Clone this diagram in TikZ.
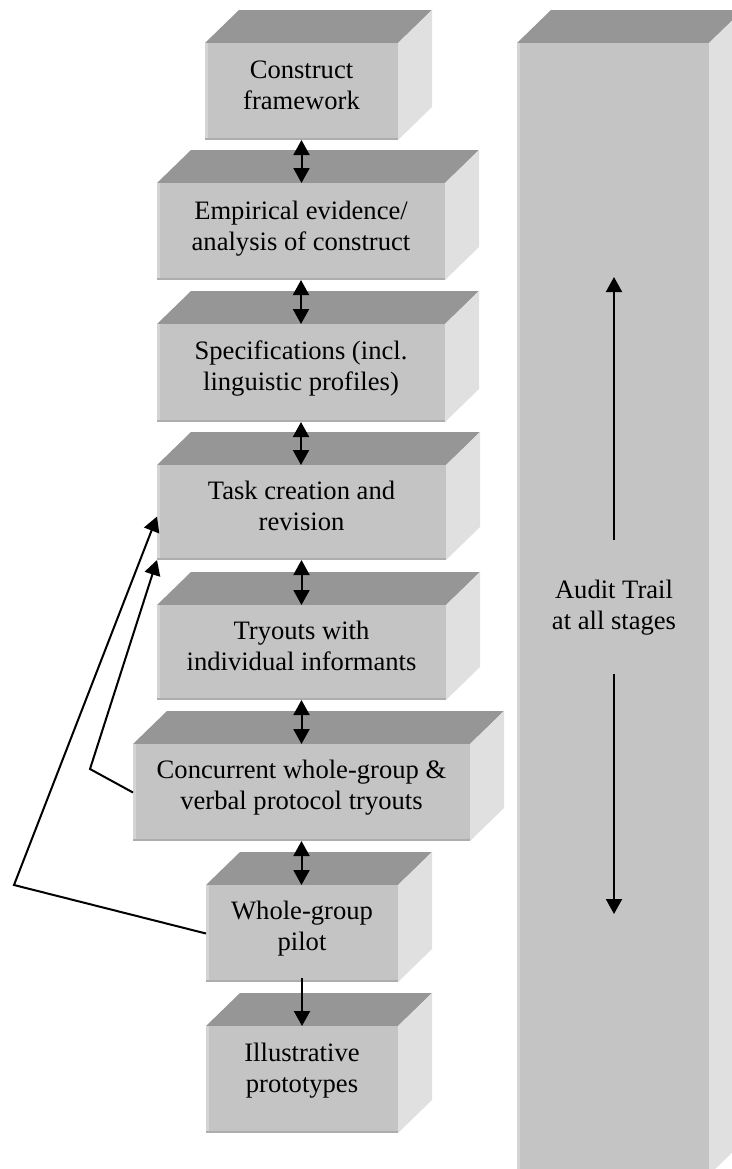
\documentclass[tikz,border=0pt]{standalone}
\usepackage{fontspec}
\setmainfont{Liberation Serif}
\usetikzlibrary{arrows.meta,fit,calc}
\definecolor{faceC}{gray}{0.77}
\definecolor{topC}{gray}{0.59}
\definecolor{sideC}{gray}{0.88}
\definecolor{leftC}{gray}{0.83}
\definecolor{botC}{gray}{0.68}
\tikzset{
  face/.style={inner sep=0pt, outer sep=0pt, fill=faceC, draw=none},
  lbl/.style={align=center, inner sep=0pt, font=\fontsize{13.3}{15.2}\selectfont},
  link/.style={line width=1pt, black},
  dbl/.style={link, {Triangle[length=7.5pt,width=8pt]}-{Triangle[length=7.5pt,width=8pt]}},
  sgl/.style={link, -{Triangle[length=7.5pt,width=8pt]}},
}
% #1 name, #2 x1, #3 y1 (top), #4 x2, #5 y2 (bottom)
\newcommand\cubebox[5]{%
  \fill[topC] (#2,#3) -- (#2+34,#3-33) -- (#4+34,#3-33) -- (#4,#3) -- cycle;
  \fill[sideC] (#4,#3) -- (#4+34,#3-33) -- (#4+34,#5-33) -- (#4,#5) -- cycle;
  \node[face, fit={(#2,#3) (#4,#5)}] (#1) {};
  \fill[leftC] (#1.north west) rectangle ([xshift=1.25pt]#1.south west);
  \fill[botC] ([yshift=1pt]#1.south west) rectangle (#1.south east);
}
\begin{document}
\begin{tikzpicture}[x=0.5pt,y=-0.5pt]
\useasboundingbox (0,0) rectangle (732,1169);
\clip (0,0) rectangle (732,1169);

\cubebox{f1}{205}{43}{398}{140}
\cubebox{f2}{157}{183}{445}{280}
\cubebox{f3}{157}{324}{445}{422}
\cubebox{f4}{157}{465}{446}{560}
\cubebox{f5}{157}{605}{446}{700}
\cubebox{f6}{133}{744}{470}{841}
\cubebox{f7}{206}{885}{398}{982}
\cubebox{f8}{206}{1026}{398}{1133}
\cubebox{fa}{517}{43}{709}{1175}

% anchor=base is the baseline of the last line
\node[lbl, anchor=base] (t1) at (301.5,109) {Construct\\framework};
\node[lbl, anchor=base] (t2) at (301,250) {Empirical evidence/\\analysis of construct};
\node[lbl, anchor=base] (t3) at (301,390) {Specifications (incl.\\linguistic profiles)};
\node[lbl, anchor=base] (t4) at (301.5,530) {Task creation and\\revision};
\node[lbl, anchor=base] (t5) at (301.5,670) {Tryouts with\\individual informants};
\node[lbl, anchor=base] (t6) at (301.5,809) {Concurrent whole-group \&\\verbal protocol tryouts};
\node[lbl, anchor=base] (t7) at (302,950) {Whole-group\\pilot};
\node[lbl, anchor=base] (t8) at (302,1092) {Illustrative\\prototypes};
\node[lbl, anchor=base] (ta) at (614,629) {Audit Trail\\at all stages};

% vertical links
\draw[dbl] (f1.south) -- (f1.south |- f2.north);
\draw[dbl] (f2.south) -- (f2.south |- f3.north);
\draw[dbl] (f3.south) -- (f3.south |- f4.north);
\draw[dbl] (f4.south) -- (f4.south |- f5.north);
\draw[dbl] (f5.south) -- (f5.south |- f6.north);
\draw[dbl] (f6.south) -- (f6.south |- f7.north);
\draw[sgl] ([yshift=2pt]f7.south) -- (f7.south |- f8.north);

% feedback loops
\coordinate (b1) at (14,885);
\coordinate (b2) at (90,769);
\draw[sgl] (f7.west) -- (b1) -- ([yshift=-2pt]f4.west);
\draw[sgl] (f6.west) -- (b2) -- (f4.south west);

% audit arrows
\coordinate (au1) at (614,540);
\coordinate (au2) at (614,277);
\coordinate (ad1) at (614,674);
\coordinate (ad2) at (614,914);
\draw[sgl] (au1) -- (au2);
\draw[sgl] (ad1) -- (ad2);
\end{tikzpicture}
\end{document}
